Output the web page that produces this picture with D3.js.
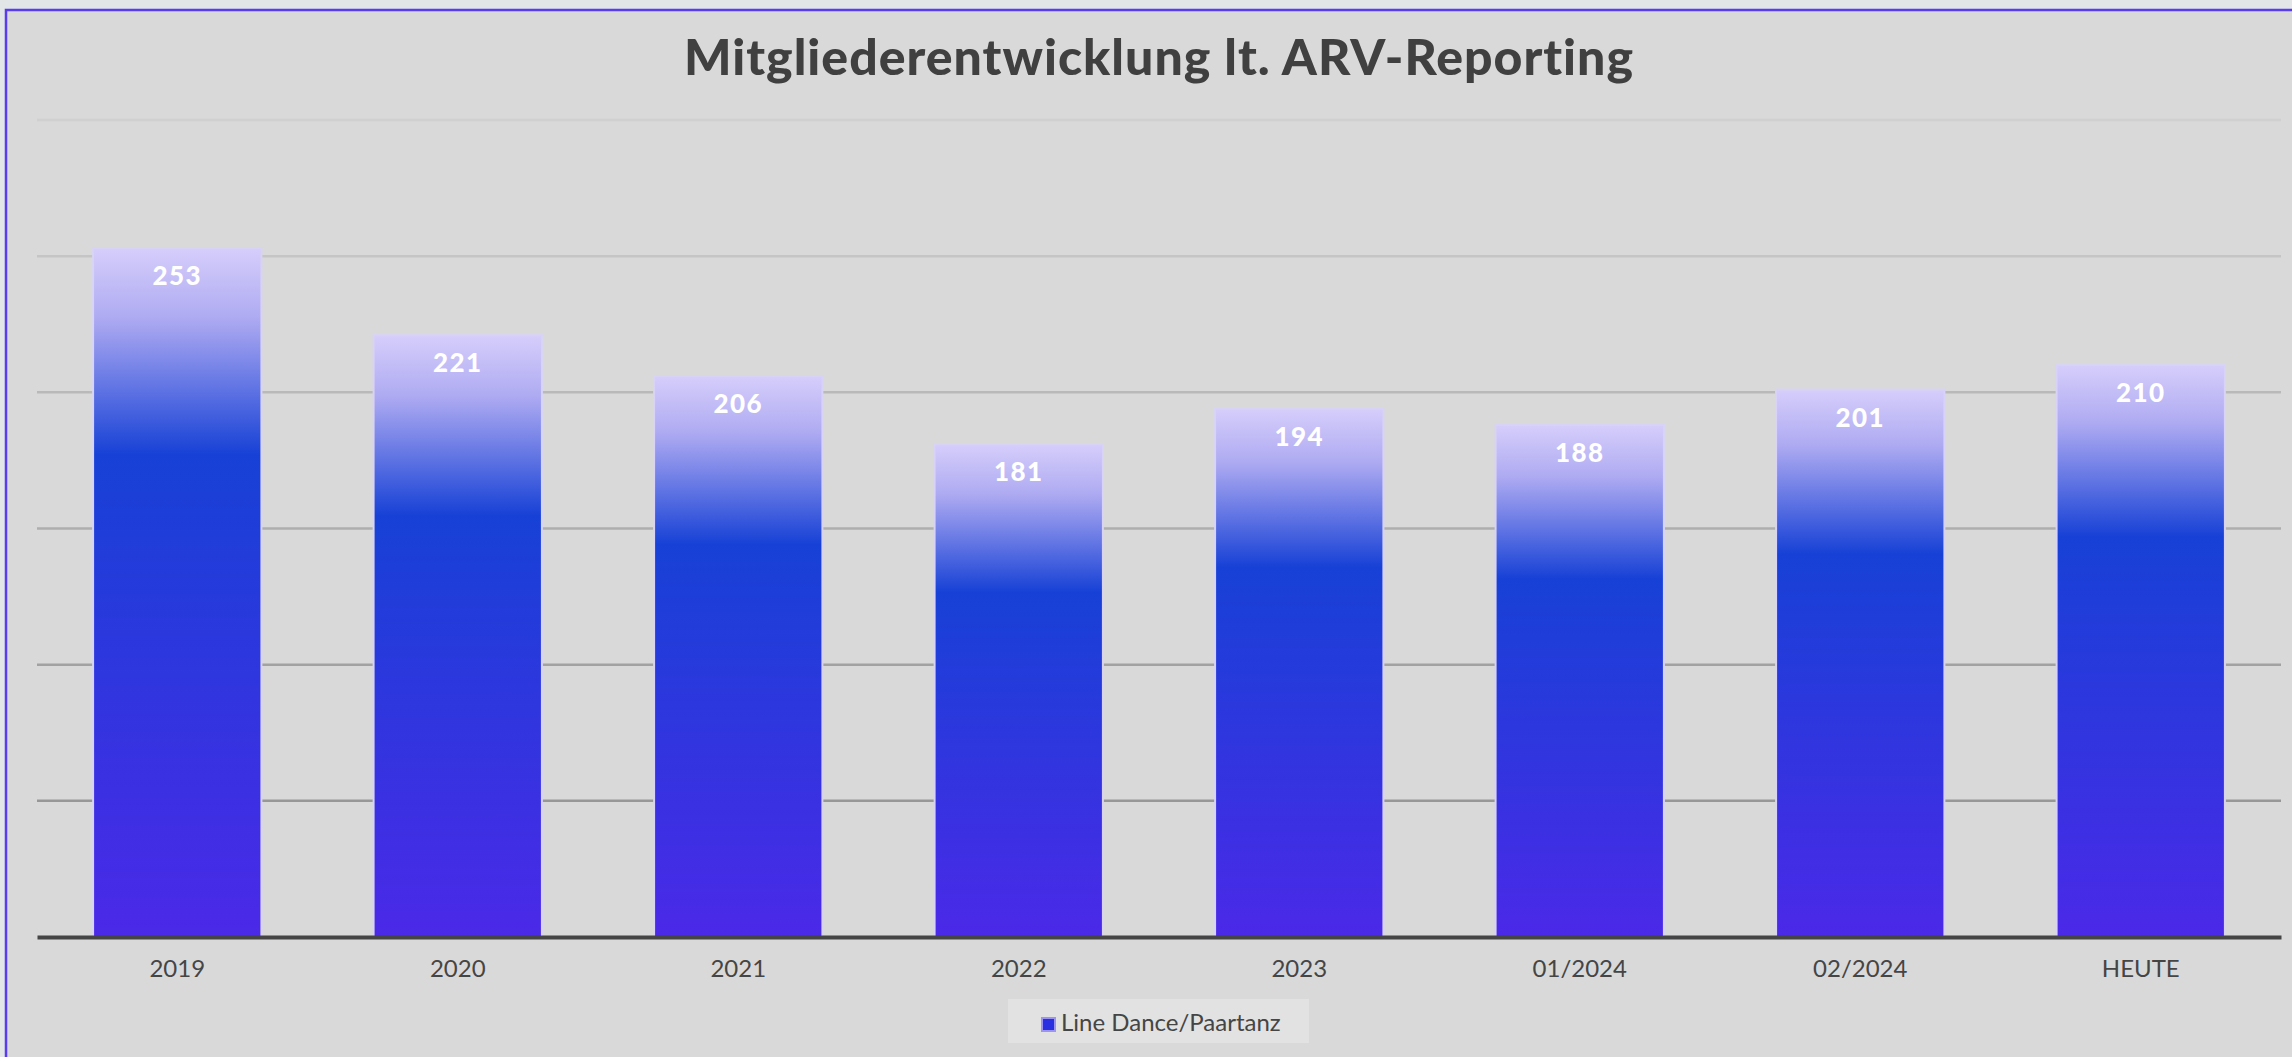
<!DOCTYPE html>
<html>
<head>
<meta charset="utf-8">
<script src="https://cdn.jsdelivr.net/npm/d3@7"></script>
<style>
  html, body { margin: 0; padding: 0; background: #e2e6e7; }
  svg { display: block; }
  text { font-variant-ligatures: none; }
</style>
</head>
<body>
<svg id="chart"></svg>
<script>
    'use strict';

    var categories = ['2019', '2020', '2021', '2022', '2023', '01/2024', '02/2024', 'HEUTE'];
    var members = [253, 221, 206, 181, 194, 188, 201, 210];
    var gridTicks = [0, 50, 100, 150, 200, 250, 300];
    var seriesName = 'Line Dance/Paartanz';
    var title = 'Mitgliederentwicklung lt. ARV-Reporting';

    var width = 2292;
    var height = 1057;
    var margin = { top: 120, right: 11, bottom: 120, left: 37 };

    var svg = d3.select('#chart')
        .attr('width', width)
        .attr('height', height);

    var defs = svg.append('defs');
    var grad = defs.append('linearGradient')
        .attr('id', 'barGrad')
        .attr('x1', 0).attr('y1', 0)
        .attr('x2', 0).attr('y2', 1);
    grad.append('stop').attr('offset', 0).attr('stop-color', '#d6cefb');
    grad.append('stop').attr('offset', 0.1).attr('stop-color', '#afabf2');
    grad.append('stop').attr('offset', 0.3).attr('stop-color', '#1741d6');
    grad.append('stop').attr('offset', 1).attr('stop-color', '#4b29e8');

    // frame
    svg.append('rect')
        .attr('x', 6).attr('y', 10)
        .attr('width', width).attr('height', height)
        .attr('fill', '#d9d9d9')
        .attr('stroke', '#5a3cf0')
        .attr('stroke-width', 2.5);

    var x = d3.scaleBand()
        .domain(categories)
        .range([margin.left, width - margin.right])
        .paddingInner(0.4)
        .paddingOuter(0.2);

    var y = d3.scaleLinear()
        .domain([0, 300])
        .range([height - margin.bottom, margin.top]);

    var gridColor = d3.scaleLinear()
        .domain([300, 50])
        .range(['#d0d0d0', '#979797']);

    svg.append('g')
        .selectAll('line')
        .data(gridTicks.filter(d => d > 0))
        .join('line')
        .attr('x1', margin.left)
        .attr('x2', width - margin.right)
        .attr('y1', d => y(d))
        .attr('y2', d => y(d))
        .attr('stroke', d => gridColor(d))
        .attr('stroke-width', 2.5);

    svg.append('g')
        .selectAll('rect')
        .data(members)
        .join('rect')
        .attr('x', (d, i) => x(categories[i]))
        .attr('y', d => y(d))
        .attr('width', x.bandwidth())
        .attr('height', d => y(0) - y(d))
        .attr('fill', 'url(#barGrad)')
        .attr('stroke', '#d8d3f6')
        .attr('stroke-width', 2);

    svg.append('g')
        .selectAll('text')
        .data(members)
        .join('text')
        .attr('x', (d, i) => x(categories[i]) + x.bandwidth() / 2)
        .attr('y', d => y(d) + 37)
        .attr('text-anchor', 'middle')
        .attr('font-family', 'Lato, sans-serif')
        .attr('font-weight', 900)
        .attr('font-size', 26)
        .attr('letter-spacing', 1.5)
        .attr('fill', '#ffffff')
        .text(d => d);

    // baseline axis
    var axis = svg.append('g')
        .attr('transform', 'translate(0,' + y(0) + ')')
        .call(d3.axisBottom(x).tickSize(0).tickPadding(20));
    axis.select('.domain')
        .attr('stroke', '#454545')
        .attr('stroke-width', 4);
    axis.selectAll('text')
        .attr('font-family', 'Lato, sans-serif')
        .attr('font-size', 24)
        .attr('fill', '#454545')
        .attr('dy', 0)
        .attr('y', 40);

    svg.append('text')
        .attr('x', (margin.left + width - margin.right) / 2)
        .attr('y', 75)
        .attr('text-anchor', 'middle')
        .attr('font-family', 'Lato, sans-serif')
        .attr('font-weight', 900)
        .attr('font-size', 50)
        .attr('letter-spacing', 1)
        .attr('fill', '#404040')
        .text(title);

    // legend
    var legend = svg.append('g');
    legend.append('rect')
        .attr('x', 1008).attr('y', 999)
        .attr('width', 301).attr('height', 44)
        .attr('fill', '#e2e2e2');
    legend.append('rect')
        .attr('x', 1042).attr('y', 1018)
        .attr('width', 13).attr('height', 13)
        .attr('fill', '#2a30e0')
        .attr('stroke', '#9c94f2')
        .attr('stroke-width', 2);
    legend.append('text')
        .attr('x', 1061).attr('y', 1031)
        .attr('font-family', 'Lato, sans-serif')
        .attr('font-size', 24)
        .attr('fill', '#454545')
        .text(seriesName);
</script>
</body>
</html>
